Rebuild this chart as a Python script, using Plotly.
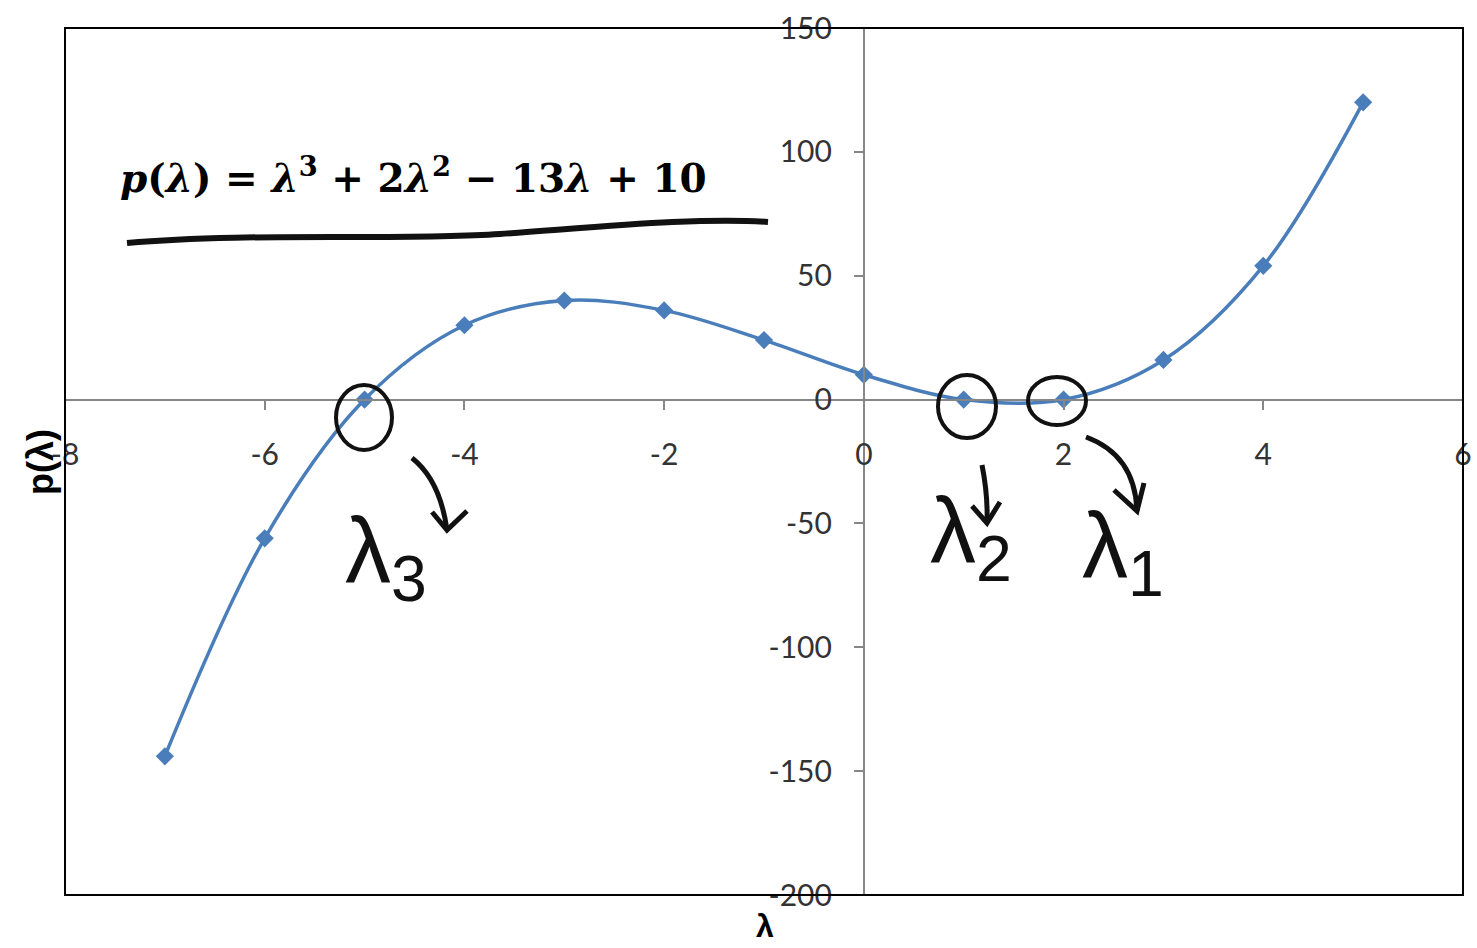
import plotly.graph_objects as go

# Sample points of p(λ) = λ³ + 2λ² − 13λ + 10
lam = [-7, -6, -5, -4, -3, -2, -1, 0, 1, 2, 3, 4, 5]
p_val = [-144, -56, 0, 30, 40, 36, 24, 10, 0, 0, 16, 54, 120]

x_ticks = [-8, -6, -4, -2, 0, 2, 4, 6]
y_ticks = [-200, -150, -100, -50, 0, 50, 100, 150]

X_RANGE = [-8, 6]
Y_RANGE = [-200, 150]

W, H = 1477, 948
L, R, T, B = 65, 1463, 28, 895
BLUE = "#4A7EBB"
AXIS_GRAY = "#868686"
INK = "#111111"


def pp(x, y):
    """pixel position -> paper fraction"""
    return (x - L) / (R - L), (B - y) / (B - T)


def path(cmds):
    out = []
    for c in cmds:
        if isinstance(c, str):
            out.append(c)
        else:
            fx, fy = pp(*c)
            out.append(f"{fx:.5f},{fy:.5f}")
    return " ".join(out)


fig = go.Figure()
fig.add_trace(go.Scatter(
    x=lam, y=p_val, mode="lines+markers",
    line=dict(color=BLUE, width=3.5, shape="spline", smoothing=1.0),
    marker=dict(symbol="diamond", size=14, color=BLUE),
    showlegend=False, hoverinfo="x+y",
))

axis_common = dict(
    showgrid=False, zeroline=False, showline=True,
    linecolor=AXIS_GRAY, linewidth=2,
    ticks="outside", ticklen=9, tickwidth=1.5, tickcolor=AXIS_GRAY,
    tickfont=dict(family="Lato", size=30, color="#333333"),
    anchor="free", automargin=False,
)

fig.update_layout(
    width=W, height=H,
    margin=dict(l=L, r=W - R, t=T, b=H - B),
    paper_bgcolor="white", plot_bgcolor="white",
    xaxis=dict(range=X_RANGE, tickvals=x_ticks, ticktext=[str(v) for v in x_ticks],
               position=(0 - Y_RANGE[0]) / (Y_RANGE[1] - Y_RANGE[0]),
               ticklabelstandoff=19, **axis_common),
    yaxis=dict(range=Y_RANGE, tickvals=y_ticks, ticktext=[str(v) for v in y_ticks],
               position=(0 - X_RANGE[0]) / (X_RANGE[1] - X_RANGE[0]),
               ticklabelstandoff=16, **axis_common),
)

shapes = []
# chart frame
shapes.append(dict(type="rect", xref="paper", yref="paper", x0=0, y0=0, x1=1, y1=1,
                   line=dict(color="black", width=2), layer="above"))

ink = dict(color=INK, width=5)
# underline of the equation
shapes.append(dict(type="path", xref="paper", yref="paper", line=dict(color=INK, width=6),
                   path=path(["M", (127, 243), "C", (250, 232), (400, 241), (500, 234),
                              "S", (700, 217), (768, 222)])))

# circles around the roots
for (x0, y0, x1, y1) in [(336, 385, 392, 450), (938, 375, 996, 438), (1028, 377, 1086, 425)]:
    a, b = pp(x0, y1)
    c, d = pp(x1, y0)
    shapes.append(dict(type="circle", xref="paper", yref="paper",
                       x0=a, y0=b, x1=c, y1=d, line=dict(color=INK, width=4)))

# curved arrows pointing to the root labels
arrows = [
    (["M", (412, 458), "Q", (440, 480), (447, 530)], [(432, 512), (447, 530), (467, 511)]),
    (["M", (982, 465), "Q", (988, 495), (987, 523)], [(972, 506), (987, 523), (1000, 502)]),
    (["M", (1086, 437), "Q", (1135, 455), (1137, 511)], [(1114, 490), (1137, 511), (1144, 483)]),
]
for shaft, head in arrows:
    shapes.append(dict(type="path", xref="paper", yref="paper", line=ink, path=path(shaft)))
    shapes.append(dict(type="path", xref="paper", yref="paper", line=ink,
                       path=path(["M", head[0], "L", head[1], "L", head[2]])))

fig.update_layout(shapes=shapes)

ann = []
# equation
ex, ey = pp(118, 175)
ann.append(dict(xref="paper", yref="paper", x=ex, y=ey, xanchor="left", yanchor="middle",
                showarrow=False,
                text="<b><i>p</i>(<i>λ</i>) = <i>λ</i><sup>3</sup> + 2<i>λ</i><sup>2</sup> − 13<i>λ</i> + 10</b>",
                font=dict(family="DejaVu Serif", size=39, color="black")))
# root labels
for (cx, cy, sub) in [(386, 557, "3"), (971, 537, "2"), (1123, 552, "1")]:
    ax_, ay_ = pp(cx, cy)
    ann.append(dict(xref="paper", yref="paper", x=ax_, y=ay_, xanchor="center", yanchor="middle",
                    showarrow=False, text=f"λ<sub>{sub}</sub>",
                    font=dict(family="Liberation Sans", size=92, color=INK)))
# axis titles
tx, ty = pp(40, 462)
ann.append(dict(xref="paper", yref="paper", x=tx, y=ty, xanchor="center", yanchor="middle",
                showarrow=False, text="<b>p(λ)</b>", textangle=-90,
                font=dict(family="Liberation Sans", size=36, color="black")))
tx, ty = pp(765, 926)
ann.append(dict(xref="paper", yref="paper", x=tx, y=ty, xanchor="center", yanchor="middle",
                showarrow=False, text="<b>λ</b>",
                font=dict(family="Liberation Sans", size=32, color="black")))
fig.update_layout(annotations=ann)

fig.write_html("out.html")
